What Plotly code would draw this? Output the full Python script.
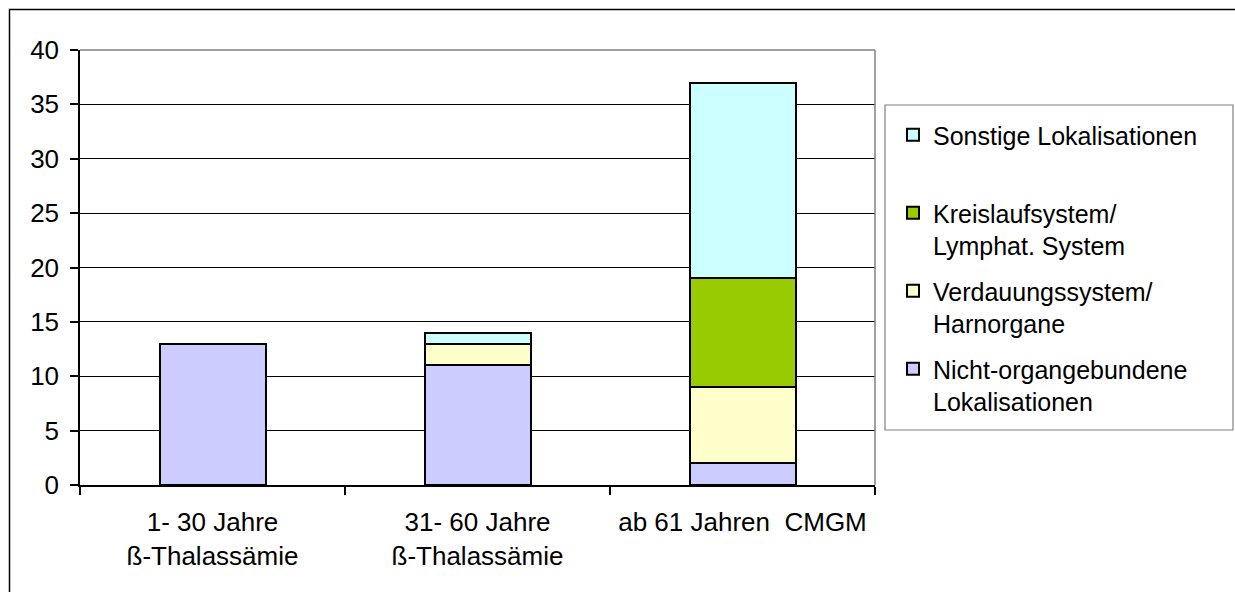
import plotly.graph_objects as go

# Altersgruppen / Diagnosen
categories = [
    "1- 30 Jahre<br>ß-Thalassämie",
    "31- 60 Jahre<br>ß-Thalassämie",
    "ab 61 Jahren\u00a0 CMGM",
]

# Anzahl der Fälle je Lokalisation (gestapelt, von unten nach oben)
nicht_organgebunden = [13, 11, 2]
verdauung_harn = [0, 2, 7]
kreislauf_lymph = [0, 0, 10]
sonstige = [0, 1, 18]

y_ticks = [0, 5, 10, 15, 20, 25, 30, 35, 40]

# name, values, colour, position in the legend
series = [
    ("Nicht-organgebundene<br>Lokalisationen", nicht_organgebunden, "#CCCCFF", 4),
    ("Verdauungssystem/<br>Harnorgane", verdauung_harn, "#FFFFCC", 3),
    ("Kreislaufsystem/<br>Lymphat. System", kreislauf_lymph, "#99CC00", 2),
    ("Sonstige Lokalisationen<br>\u00a0", sonstige, "#CCFFFF", 1),
]

FONT = "Liberation Sans, Arial, sans-serif"

fig = go.Figure()
for i, (name, vals, color, rank) in enumerate(series):
    fig.add_trace(go.Bar(
        x=categories, y=vals, name=name, legendgroup=f"g{i}", legendrank=rank,
        marker=dict(color=color, line=dict(color="black", width=2)),
        hoverinfo="x+y+name",
    ))

# plot area in pixels: x 80..875, y 50..485
L, R, T, B = 80, 875, 50, 485
W, H = R - L, B - T

def px_x(p):
    return (p - L) / W

def px_y(p):
    return (B - p) / H

shapes = [
    # frame of the plot area (top and right in grey)
    dict(type="line", xref="paper", yref="paper", x0=0, x1=1, y0=1, y1=1,
         line=dict(color="#808080", width=1.5)),
    dict(type="line", xref="paper", yref="paper", x0=1, x1=1, y0=0, y1=1,
         line=dict(color="#808080", width=1.5)),
    # legend box
    dict(type="rect", xref="paper", yref="paper",
         x0=px_x(885), x1=px_x(1233), y0=px_y(430), y1=px_y(105),
         line=dict(color="#808080", width=1.2), fillcolor="rgba(0,0,0,0)"),
    # outer chart border
    dict(type="rect", xref="paper", yref="paper",
         x0=px_x(9.5), x1=px_x(1260), y0=px_y(620), y1=px_y(9.5),
         line=dict(color="black", width=1.5), fillcolor="rgba(0,0,0,0)"),
]

fig.update_layout(
    width=1235, height=592,
    margin=dict(l=L, r=1235 - R, t=T, b=592 - B, autoexpand=False),
    paper_bgcolor="white", plot_bgcolor="white",
    barmode="stack", bargap=0.6,
    font=dict(family=FONT, size=26, color="black"),
    showlegend=True,
    legend=dict(
        x=px_x(893), y=px_y(112), xanchor="left", yanchor="top",
        traceorder="grouped", tracegroupgap=10,
        valign="top", font=dict(family=FONT, size=25, color="black"),
        bgcolor="rgba(0,0,0,0)", borderwidth=0,
    ),
    xaxis=dict(
        showline=True, linecolor="black", linewidth=1.5,
        ticks="outside", ticklen=8, tickcolor="black", tickwidth=1.5,
        tickson="boundaries", showgrid=False,
        tickfont=dict(family=FONT, size=26, color="black"),
        ticklabelstandoff=13,
    ),
    yaxis=dict(
        range=[0, 40], tickvals=y_ticks,
        showline=True, linecolor="black", linewidth=1.5,
        ticks="outside", ticklen=8, tickcolor="black", tickwidth=1.5,
        showgrid=True, gridcolor="black", gridwidth=1,
        zeroline=False,
        tickfont=dict(family=FONT, size=26, color="black"),
        ticklabelstandoff=6,
    ),
    shapes=shapes,
)

fig.write_html("out.html")
